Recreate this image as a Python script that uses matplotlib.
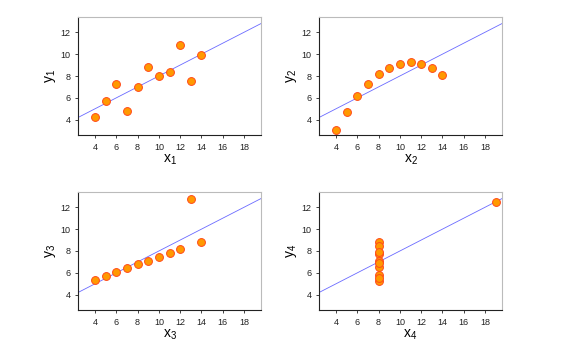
import numpy as np
import matplotlib
matplotlib.use('Agg')
import matplotlib.pyplot as plt

plt.rcParams['font.family'] = ['Liberation Sans', 'DejaVu Sans']
plt.rcParams['mathtext.fontset'] = 'custom'
plt.rcParams['mathtext.rm'] = 'Liberation Sans'
plt.rcParams['mathtext.it'] = 'Liberation Sans'

# Anscombe's quartet
x123 = [10, 8, 13, 9, 11, 14, 6, 4, 12, 7, 5]
y1 = [8.04, 6.95, 7.58, 8.81, 8.33, 9.96, 7.24, 4.26, 10.84, 4.82, 5.68]
y2 = [9.14, 8.14, 8.74, 8.77, 9.26, 8.10, 6.13, 3.10, 9.13, 7.26, 4.74]
y3 = [7.46, 6.77, 12.74, 7.11, 7.81, 8.84, 6.08, 5.39, 8.15, 6.42, 5.73]
x4 = [8, 8, 8, 8, 8, 8, 8, 19, 8, 8, 8]
y4 = [6.58, 5.76, 7.71, 8.84, 8.47, 7.04, 5.25, 12.50, 5.56, 7.91, 6.89]

# fit line y = 3 + 0.5 x
intercept, slope = 3.0, 0.5

datasets = [(x123, y1), (x123, y2), (x123, y3), (x4, y4)]
# axes positions in pixels: left, top
pos = [(78, 17), (319, 17), (78, 192), (319, 192)]
W, H = 575, 348
aw, ah = 183, 118

fig = plt.figure(figsize=(W / 100, H / 100), dpi=100)

for i, ((xs, ys), (l, t)) in enumerate(zip(datasets, pos)):
    ax = fig.add_axes([l / W, 1 - (t + ah) / H, aw / W, ah / H])
    ax.set_xlim(2.4, 19.6)
    ax.set_ylim(2.6, 13.4)
    lx = np.array([2.4, 19.6])
    ax.plot(lx, intercept + slope * lx, color='#6a6aff', lw=0.6, zorder=1)
    ax.scatter(xs, ys, s=32, facecolor='#ff9900', edgecolor='#ff4a1a',
               linewidth=0.7, zorder=2)
    ax.set_xticks(range(4, 20, 2))
    ax.set_yticks(range(4, 14, 2))
    ax.tick_params(labelsize=6.5, length=2.5, width=0.6, direction='out',
                   colors='#222222', pad=3)
    for s in ['left', 'bottom']:
        ax.spines[s].set_color('#222222')
        ax.spines[s].set_linewidth(0.8)
    for s in ['top', 'right']:
        ax.spines[s].set_color('#bbbbbb')
        ax.spines[s].set_linewidth(0.8)
    n = i + 1
    ax.set_xlabel(f'x$_{n}$', fontsize=10, labelpad=1)
    ax.set_ylabel(f'y$_{n}$', fontsize=10, labelpad=2)

fig.savefig('out.png', dpi=100)
